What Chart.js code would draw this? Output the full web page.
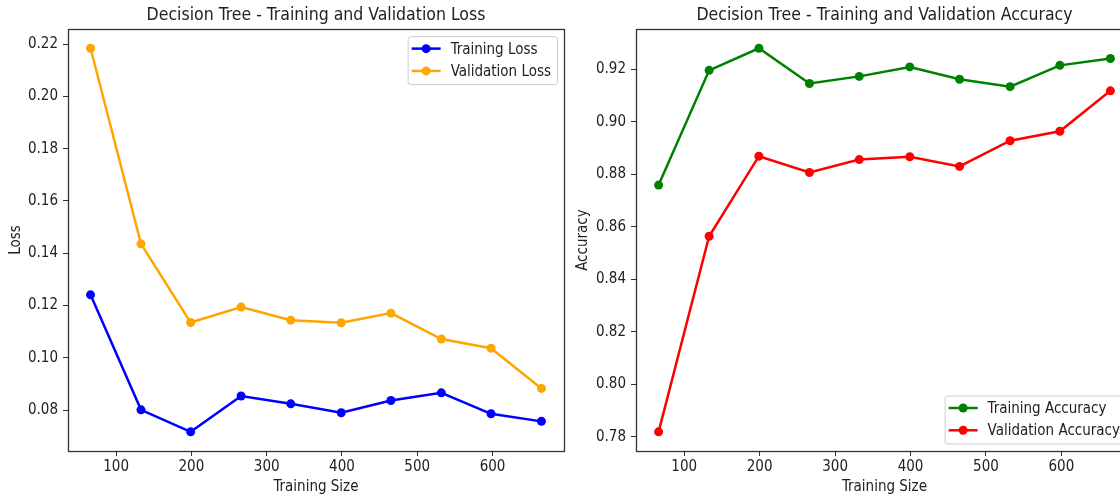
<!DOCTYPE html>
<html>
<head>
<meta charset="utf-8">
<script src="https://cdn.jsdelivr.net/npm/chart.js@4.4.0/dist/chart.umd.min.js"></script>
<style>
  html, body { margin: 0; padding: 0; background: #fff; overflow: hidden; width: 1120px; height: 498px; }
  .panel { position: absolute; top: 0; }
</style>
</head>
<body>
<div class="panel" style="left:0"><canvas id="loss" width="570" height="498"></canvas></div>
<div class="panel" style="left:570px"><canvas id="acc" width="570" height="498"></canvas></div>
<script>
// learning curve of the decision tree
const trainSizes = [66, 133, 199, 266, 332, 399, 465, 532, 598, 665];
const trainLoss = [0.1241, 0.0801, 0.0717, 0.0854, 0.0824, 0.0790, 0.0837, 0.0866, 0.0786, 0.0757];
const valLoss = [0.2184, 0.1436, 0.1135, 0.1194, 0.1144, 0.1134, 0.1171, 0.1072, 0.1037, 0.0883];
const trainAcc = [0.8759, 0.9196, 0.9280, 0.9146, 0.9173, 0.9209, 0.9162, 0.9134, 0.9215, 0.9241];
const valAcc = [0.7819, 0.8564, 0.8869, 0.8807, 0.8856, 0.8867, 0.8830, 0.8928, 0.8964, 0.9118];

const family = "'DejaVu Sans Condensed', 'DejaVu Sans', sans-serif";
Chart.defaults.font.family = family;
Chart.defaults.color = '#222';

// axis limits with a 5% margin around the data
function padded(values) {
  const lo = Math.min(...values), hi = Math.max(...values);
  const m = (hi - lo) * 0.05;
  return { min: lo - m, max: hi + m };
}

// full box around the plot area
const frame = {
  id: 'frame',
  afterDatasetsDraw(chart) {
    const { ctx, chartArea: a } = chart;
    ctx.save();
    ctx.strokeStyle = '#333';
    ctx.lineWidth = 1.3;
    ctx.strokeRect(Math.round(a.left) + 0.5, Math.round(a.top) + 0.5,
      Math.round(a.right - a.left), Math.round(a.bottom - a.top));
    ctx.restore();
  }
};

// legend drawn inside the plot area
const boxLegend = {
  id: 'boxLegend',
  afterDraw(chart, args, opts) {
    const { ctx, chartArea: a } = chart;
    const sets = chart.data.datasets;
    ctx.save();
    ctx.font = '15px ' + family;
    const textW = Math.max(...sets.map(d => ctx.measureText(d.label).width));
    const w = 43 + textW + 6, h = 48;
    const x = a.right - 7 - w;
    const y = opts.place === 'top' ? a.top + 7 : a.bottom - 7.5 - h;
    ctx.fillStyle = 'rgba(255,255,255,0.8)';
    ctx.strokeStyle = '#ccc';
    ctx.lineWidth = 1;
    ctx.beginPath();
    ctx.roundRect(x + 0.5, y + 0.5, w, h, 3);
    ctx.fill();
    ctx.stroke();
    sets.forEach((d, i) => {
      const ry = y + 12.5 + i * 22.3;
      ctx.strokeStyle = d.borderColor;
      ctx.lineWidth = 2.5;
      ctx.beginPath();
      ctx.moveTo(x + 4, ry);
      ctx.lineTo(x + 33, ry);
      ctx.stroke();
      ctx.fillStyle = d.borderColor;
      ctx.beginPath();
      ctx.arc(x + 18.5, ry, 4.5, 0, Math.PI * 2);
      ctx.fill();
      ctx.fillStyle = '#222';
      ctx.textBaseline = 'middle';
      ctx.fillText(d.label, x + 43, ry + 1);
    });
    ctx.restore();
  }
};

function series(label, values, color) {
  return {
    label: label,
    data: trainSizes.map((s, i) => ({ x: s, y: values[i] })),
    borderColor: color,
    backgroundColor: color,
    borderWidth: 2.5,
    pointRadius: 4.5,
    pointHoverRadius: 4.5,
    pointBorderWidth: 0,
    tension: 0
  };
}

function makeChart(id, title, yLabel, datasets, opt) {
  const xr = padded(trainSizes);
  const yr = padded(datasets.flatMap(d => d.data.map(p => p.y)));
  return new Chart(document.getElementById(id), {
    type: 'line',
    data: { datasets: datasets },
    plugins: [frame, boxLegend],
    options: {
      responsive: false,
      animation: false,
      layout: { padding: { left: 0, right: opt.padRight, top: 0, bottom: 0 } },
      plugins: {
        legend: { display: false },
        tooltip: { enabled: false },
        title: {
          display: true,
          text: title,
          fullSize: false,
          color: '#222',
          font: { size: 17.5, weight: 'normal', lineHeight: 1.15 },
          padding: { top: 5, bottom: 4 }
        },
        boxLegend: { place: opt.legend }
      },
      scales: {
        x: {
          type: 'linear',
          min: xr.min,
          max: xr.max,
          border: { display: false },
          grid: { drawOnChartArea: false, drawTicks: true, tickLength: 5, tickColor: '#333' },
          ticks: { stepSize: 100, includeBounds: false, padding: 2, font: { size: 15 }, maxRotation: 0 },
          title: { display: true, text: 'Training Size', font: { size: 15 }, padding: { top: 0, bottom: 2 } },
          afterFit: s => { s.height = 47; }
        },
        y: {
          min: yr.min,
          max: yr.max,
          border: { display: false },
          grid: { drawOnChartArea: false, drawTicks: true, tickLength: 5, tickColor: '#333' },
          ticks: { stepSize: 0.02, includeBounds: false, padding: 5, font: { size: 15 },
            callback: v => v.toFixed(2) },
          title: { display: true, text: yLabel, font: { size: 15 }, padding: { top: opt.titlePad, bottom: 0 } },
          afterFit: s => { s.width = opt.yWidth; }
        }
      }
    }
  });
}

makeChart('loss', 'Decision Tree - Training and Validation Loss', 'Loss', [
  series('Training Loss', trainLoss, '#0000ff'),
  series('Validation Loss', valLoss, '#ffa500')
], { padRight: 6, yWidth: 68, titlePad: 7, legend: 'top' });

makeChart('acc', 'Decision Tree - Training and Validation Accuracy', 'Accuracy', [
  series('Training Accuracy', trainAcc, '#008000'),
  series('Validation Accuracy', valAcc, '#ff0000')
], { padRight: 7, yWidth: 66, titlePad: 4, legend: 'bottom' });
</script>
</body>
</html>
